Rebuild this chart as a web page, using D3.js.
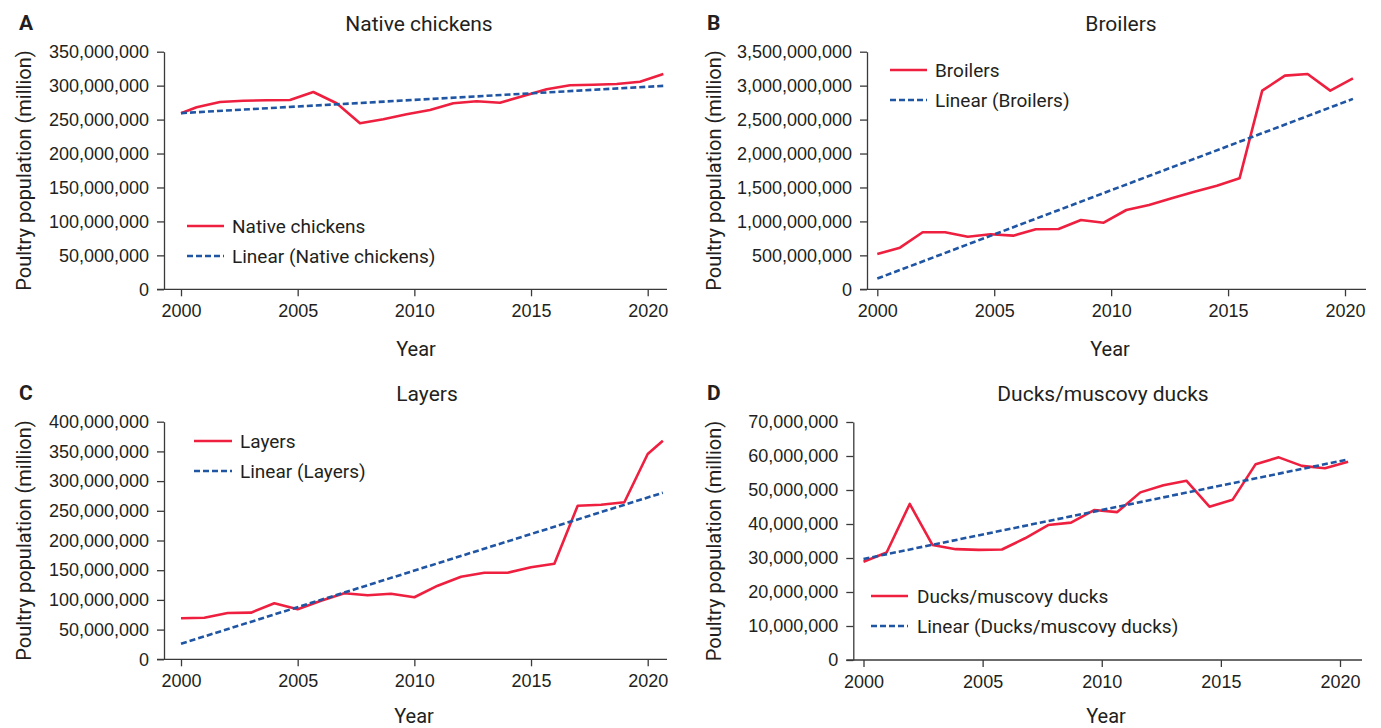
<!DOCTYPE html>
<html>
<head>
<meta charset="utf-8">
<script src="https://cdn.jsdelivr.net/npm/d3@7/dist/d3.min.js"></script>
<style>
  html, body { margin: 0; padding: 0; background: #fff; }
  svg { display: block; font-family: Roboto, "Noto Sans", sans-serif; }
  .tick text { fill: #231f20; }
</style>
</head>
<body>
<svg id="chart" width="1381" height="728"></svg>
<script>
// ---- Data: poultry populations, 2000 onwards ----
const tickYears = [2000, 2005, 2010, 2015, 2020];

const nativeYears = [2000, 2000.67, 2001.67, 2002.67, 2003.67, 2004.67, 2005.67, 2006.67, 2007.67, 2008.67, 2009.67,
  2010.67, 2011.67, 2012.67, 2013.67, 2014.67, 2015.67, 2016.67, 2017.67, 2018.67, 2019.67, 2020.67];
const nativeChickens = [259.3e6, 268.1e6, 275.9e6, 277.8e6, 278.4e6, 278.9e6, 290.6e6, 274.0e6, 244.5e6, 250.4e6, 257.8e6,
  264.1e6, 274.0e6, 276.9e6, 274.9e6, 284.7e6, 294.6e6, 300.5e6, 301.4e6, 302.4e6, 305.8e6, 317.1e6];
const nativeTicks = [0, 50e6, 100e6, 150e6, 200e6, 250e6, 300e6, 350e6];

const broilerYears = [2000, 2000.97, 2001.94, 2002.9, 2003.87, 2004.84, 2005.81, 2006.78, 2007.75, 2008.71, 2009.68,
  2010.65, 2011.62, 2012.59, 2013.56, 2014.52, 2015.49, 2016.46, 2017.43, 2018.4, 2019.37, 2020.34];
const broilers = [520e6, 613e6, 840e6, 840e6, 775e6, 810e6, 790e6, 884e6, 888e6, 1021e6, 981e6,
  1168e6, 1242e6, 1340e6, 1438e6, 1526e6, 1635e6, 2926e6, 3147e6, 3172e6, 2926e6, 3108e6];
const broilerTicks = [0, 500e6, 1000e6, 1500e6, 2000e6, 2500e6, 3000e6, 3500e6];

const layerYears = [2000, 2001, 2002, 2003, 2004, 2005, 2006, 2007, 2008, 2009, 2010,
  2011, 2012, 2013, 2014, 2015, 2016, 2017, 2018, 2019, 2020, 2020.65];
const layers = [69.0e6, 70.0e6, 77.9e6, 78.5e6, 94.3e6, 84.2e6, 98.7e6, 111.1e6, 107.7e6, 110.4e6, 104.4e6,
  123.9e6, 139.1e6, 145.8e6, 145.8e6, 154.9e6, 161.0e6, 258.6e6, 260.3e6, 264.3e6, 345.6e6, 368.0e6];
const layerTicks = [0, 50e6, 100e6, 150e6, 200e6, 250e6, 300e6, 350e6, 400e6];

const duckYears = [2000, 2000.97, 2001.94, 2002.9, 2003.87, 2004.84, 2005.81, 2006.78, 2007.75, 2008.71, 2009.68,
  2010.65, 2011.62, 2012.59, 2013.56, 2014.52, 2015.49, 2016.46, 2017.43, 2018.4, 2019.37, 2020.34];
const ducks = [28.9e6, 31.6e6, 45.9e6, 33.8e6, 32.6e6, 32.4e6, 32.5e6, 35.8e6, 39.7e6, 40.4e6, 44.1e6,
  43.5e6, 49.3e6, 51.4e6, 52.7e6, 45.1e6, 47.1e6, 57.6e6, 59.6e6, 57.1e6, 56.4e6, 58.3e6];
const duckTicks = [0, 10e6, 20e6, 30e6, 40e6, 50e6, 60e6, 70e6];

// ---- Styling ----
const RED = "#ee1f3f";
const BLUE = "#1f55a3";
const INK = "#231f20";
const AXIS = "#3a3a3a";

// ---- Panel layout ----
const panels = [
  { letter: "A", title: "Native chickens", name: "Native chickens", xs: nativeYears, ys: nativeChickens, ticks: nativeTicks,
    axisX: 164, x2000: 181, x2020: 647.7, xEnd: 667, yBottom: 289.3, yTop: 51.7,
    letterX: 19, titleX: 419, yearX: 416, yearGap: 60, yTitleX: 24,
    legend: { x1: 187, x2: 224, textX: 232, y: 226 } },
  { letter: "B", title: "Broilers", name: "Broilers", xs: broilerYears, ys: broilers, ticks: broilerTicks,
    axisX: 867, x2000: 877.3, x2020: 1345, xEnd: 1366, yBottom: 289.3, yTop: 51.7,
    letterX: 707, titleX: 1121, yearX: 1110, yearGap: 60, yTitleX: 714,
    legend: { x1: 890, x2: 927, textX: 935, y: 70 } },
  { letter: "C", title: "Layers", name: "Layers", xs: layerYears, ys: layers, ticks: layerTicks,
    axisX: 164, x2000: 181, x2020: 647.7, xEnd: 667, yBottom: 659.3, yTop: 421.7,
    letterX: 19, titleX: 427, yearX: 414, yearGap: 57, yTitleX: 24,
    legend: { x1: 194, x2: 232, textX: 240, y: 441 } },
  { letter: "D", title: "Ducks/muscovy ducks", name: "Ducks/muscovy ducks", xs: duckYears, ys: ducks, ticks: duckTicks,
    axisX: 853.3, x2000: 863.5, x2020: 1340, xEnd: 1362, yBottom: 660, yTop: 422,
    letterX: 707, titleX: 1103, yearX: 1106, yearGap: 56, yTitleX: 714,
    legend: { x1: 871, x2: 908, textX: 917, y: 596 } }
];

// Least-squares fit against the observation index (spreadsheet-style linear trendline)
function linearFit(values) {
  const n = values.length;
  const idx = d3.range(n);
  const mx = d3.mean(idx), my = d3.mean(values);
  let sxy = 0, sxx = 0;
  idx.forEach((i) => { sxy += (i - mx) * (values[i] - my); sxx += (i - mx) * (i - mx); });
  const slope = sxy / sxx;
  const intercept = my - slope * mx;
  return (i) => intercept + slope * i;
}

const svg = d3.select("#chart");
const fmt = d3.format(",");

panels.forEach((p) => {
  const g = svg.append("g");
  const x = d3.scaleLinear().domain([2000, 2020]).range([p.x2000, p.x2020]);
  const y = d3.scaleLinear().domain([0, d3.max(p.ticks)]).range([p.yBottom, p.yTop]);

  // y axis
  const yAxis = g.append("g")
    .attr("transform", `translate(${p.axisX},0)`)
    .call(d3.axisLeft(y).tickValues(p.ticks).tickFormat(fmt).tickSize(7).tickSizeOuter(0).tickPadding(8));
  yAxis.selectAll("path, line").attr("stroke", AXIS).attr("stroke-width", 1.3);
  yAxis.selectAll("text").attr("font-size", 18).attr("fill", INK);

  // x axis baseline spans the full plot width
  g.append("line")
    .attr("x1", p.axisX - 7).attr("x2", p.xEnd)
    .attr("y1", p.yBottom).attr("y2", p.yBottom)
    .attr("stroke", AXIS).attr("stroke-width", 1.3);

  const xAxis = g.append("g")
    .attr("transform", `translate(0,${p.yBottom})`)
    .call(d3.axisBottom(x).tickValues(tickYears).tickFormat(d3.format("d")).tickSize(7).tickPadding(8));
  xAxis.select(".domain").remove();
  xAxis.selectAll("line").attr("stroke", AXIS).attr("stroke-width", 1.3);
  xAxis.selectAll("text").attr("font-size", 18).attr("fill", INK);

  // observed series
  const pts = p.ys.map((v, i) => [p.xs[i], v]);
  g.append("path")
    .datum(pts)
    .attr("fill", "none")
    .attr("stroke", RED)
    .attr("stroke-width", 2.6)
    .attr("stroke-linejoin", "round")
    .attr("d", d3.line().x((d) => x(d[0])).y((d) => y(d[1])));

  // linear trendline
  const fit = linearFit(p.ys);
  const last = p.ys.length - 1;
  const trend = [[p.xs[0], fit(0)], [p.xs[last], fit(last)]];
  g.append("path")
    .datum(trend)
    .attr("fill", "none")
    .attr("stroke", BLUE)
    .attr("stroke-width", 2.6)
    .attr("stroke-dasharray", "6,3")
    .attr("d", d3.line().x((d) => x(d[0])).y((d) => y(d[1])));

  // legend
  const L = p.legend;
  g.append("line").attr("x1", L.x1).attr("x2", L.x2).attr("y1", L.y).attr("y2", L.y)
    .attr("stroke", RED).attr("stroke-width", 2.6);
  g.append("text").attr("x", L.textX).attr("y", L.y).attr("dy", "0.35em")
    .attr("font-size", 19).attr("fill", INK).text(p.name);
  g.append("line").attr("x1", L.x1).attr("x2", L.x2).attr("y1", L.y + 30).attr("y2", L.y + 30)
    .attr("stroke", BLUE).attr("stroke-width", 2.6).attr("stroke-dasharray", "6,3");
  g.append("text").attr("x", L.textX).attr("y", L.y + 30).attr("dy", "0.35em")
    .attr("font-size", 19).attr("fill", INK).text(`Linear (${p.name})`);

  // panel letter and title
  const topY = p.yTop - 29;
  g.append("text").attr("x", p.letterX).attr("y", topY).attr("dy", "0.35em")
    .attr("font-size", 21).attr("font-weight", "bold").attr("fill", INK).text(p.letter);
  g.append("text").attr("x", p.titleX).attr("y", topY + 1).attr("dy", "0.35em")
    .attr("text-anchor", "middle").attr("font-size", 21).attr("fill", INK).text(p.title);

  // axis titles
  g.append("text").attr("x", p.yearX).attr("y", p.yBottom + p.yearGap).attr("dy", "0.35em")
    .attr("text-anchor", "middle").attr("font-size", 20).attr("fill", INK).text("Year");
  g.append("text")
    .attr("transform", `translate(${p.yTitleX},${(p.yTop + p.yBottom) / 2}) rotate(-90)`)
    .attr("dy", "0.35em")
    .attr("text-anchor", "middle").attr("font-size", 20).attr("fill", INK)
    .text("Poultry population (million)");
});
</script>
</body>
</html>
